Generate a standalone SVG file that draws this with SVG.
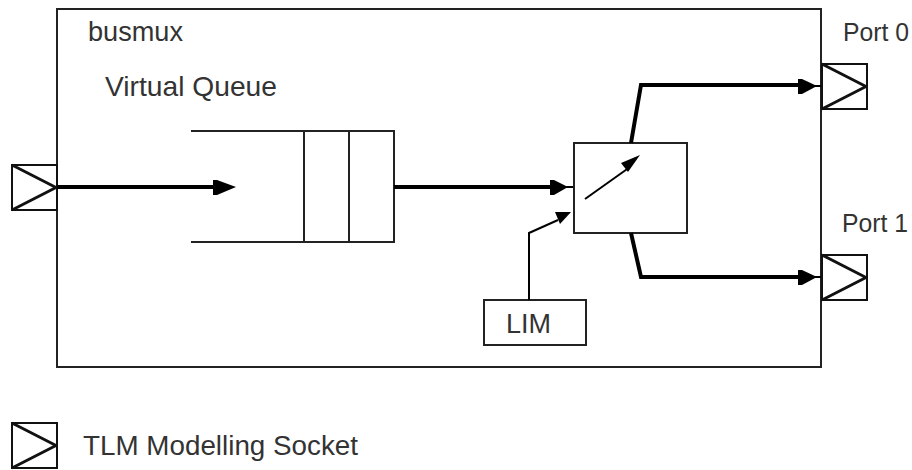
<svg xmlns="http://www.w3.org/2000/svg" width="912" height="470" viewBox="0 0 912 470">
<style>
.b{fill:none;stroke:#222;stroke-width:2}
.t{font-family:"Liberation Sans",Arial,sans-serif;font-size:27.5px;fill:#333}
.p{font-size:26px}
.thick{fill:none;stroke:#000;stroke-width:4}
.thin{fill:none;stroke:#000;stroke-width:2}
.h{fill:#000;stroke:none}
.s{fill:none;stroke:#111;stroke-width:2}
.c{fill:none;stroke:#111;stroke-width:3;stroke-linejoin:bevel}
</style>
<defs>
<g id="sock"><rect class="s" x="0" y="0" width="45" height="45"/><path class="c" d="M0 0L44 22.500L0 45"/></g>
</defs>
<g id="busmux"><rect class="b" x="57" y="9" width="764" height="358"/><text class="t" x="88" y="41" textLength="95" lengthAdjust="spacingAndGlyphs">busmux</text></g>
<g id="virtual-queue"><path class="b" d="M191 131H394V242H191M304 131V242M349 131V242"/><text class="t" x="105" y="96" textLength="172" lengthAdjust="spacingAndGlyphs">Virtual Queue</text></g>
<g id="switch"><rect class="b" x="574" y="143" width="113" height="90"/><path class="thin" d="M585 199L630 167"/><path class="h" d="M640 155L621 163L628 172Z"/></g>
<g id="lim"><rect class="b" x="484" y="300" width="102" height="45"/><text class="t" x="506" y="333" textLength="45" lengthAdjust="spacingAndGlyphs">LIM</text></g>
<g id="port-in"><use href="#sock" x="12" y="165"/></g>
<g id="port0"><use href="#sock" x="822" y="64"/><text class="t p" x="843" y="41" textLength="66" lengthAdjust="spacingAndGlyphs">Port 0</text></g>
<g id="port1"><use href="#sock" x="822" y="255"/><text class="t p" x="842" y="232" textLength="66" lengthAdjust="spacingAndGlyphs">Port 1</text></g>
<g id="legend"><use href="#sock" x="12" y="423"/><text class="t" x="83" y="455" textLength="275" lengthAdjust="spacingAndGlyphs">TLM Modelling Socket</text></g>
<g id="connectors">
<path class="thick" d="M57 187H220"/><path class="h" d="M236 187L217 180H213V195H217Z"/>
<path class="thick" d="M394 187H555"/><path class="thin" d="M555 187H573"/><path class="h" d="M568 187L554 180H550V195H554Z"/>
<path class="thick" d="M631 143L641 85H805"/><path class="thin" d="M805 86H821"/><path class="h" d="M817 86L802 79H798V94H802Z"/>
<path class="thick" d="M631 233L641 277H805"/><path class="thin" d="M805 277H821"/><path class="h" d="M817 277L802 270H798V285H802Z"/>
<path class="thin" d="M529 300V233L558 220"/><path class="h" d="M571 212L555 212L560 224Z"/>
</g>
</svg>
